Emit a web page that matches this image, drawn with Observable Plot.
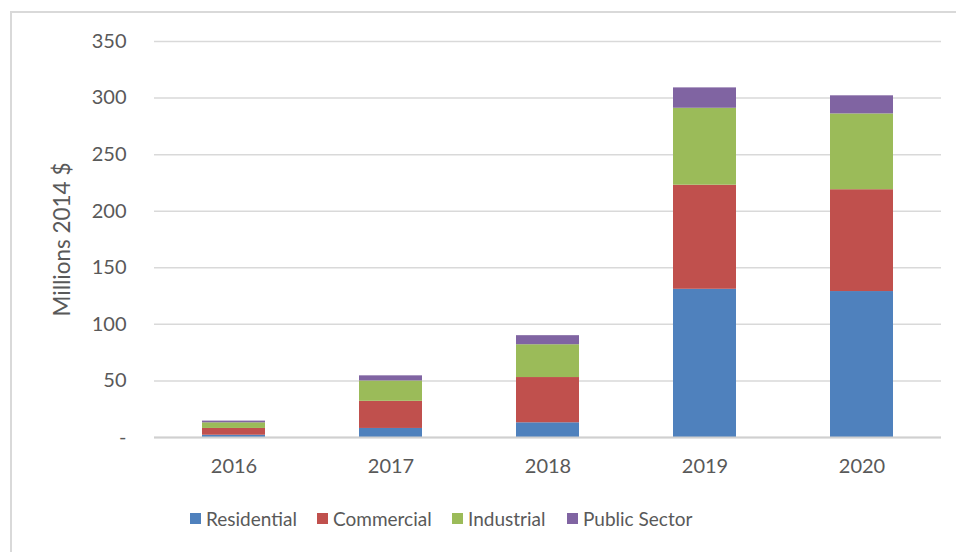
<!DOCTYPE html>
<html>
<head>
<meta charset="utf-8">
<script src="https://cdn.jsdelivr.net/npm/d3@7"></script>
<script src="https://cdn.jsdelivr.net/npm/@observablehq/plot@0.6"></script>
<style>
  body { margin: 0; background: #fff; }
  #wrap { position: relative; width: 956px; height: 552px; overflow: hidden; font-family: Lato, "Open Sans", sans-serif; }
  #frame { position: absolute; left: 10px; top: 11px; width: 1000px; height: 600px; border-top: 2px solid #d9d9d9; border-left: 2px solid #d9d9d9; box-sizing: border-box; }
  #chart { position: absolute; left: 0; top: 0; }
  #legend { position: absolute; left: 0; top: 507px; width: 956px; height: 30px; font-size: 19px; color: #595959; }
  .item { position: absolute; top: 0; display: flex; align-items: center; gap: 5px; white-space: nowrap; }
  .sw { width: 11px; height: 11px; display: inline-block; }
</style>
</head>
<body>
<div id="wrap">
  <div id="frame"></div>
  <div id="chart"></div>
  <div id="legend"></div>
</div>
<script>
const years = ["2016", "2017", "2018", "2019", "2020"];
const series = ["Residential", "Commercial", "Industrial", "Public Sector"];
const colors = ["#4F81BD", "#C0504D", "#9BBB59", "#8064A2"];
const residential = [2, 8, 13, 131, 129];
const commercial = [6, 24, 40, 92, 90];
const industrial = [5, 18, 29, 68, 67];
const publicSector = [1.5, 4.5, 8, 18, 16];
const yTicks = [0, 50, 100, 150, 200, 250, 300, 350];
const yTitle = "Millions 2014 $";

const valuesBySeries = [residential, commercial, industrial, publicSector];
const data = [];
series.forEach((s, i) => years.forEach((y, j) => data.push({year: y, series: s, value: valuesBySeries[i][j]})));

const chart = Plot.plot({
  width: 956,
  height: 495,
  marginLeft: 154,
  marginRight: 15,
  marginTop: 41,
  marginBottom: 58,
  style: {fontFamily: "Lato, 'Open Sans', sans-serif", fontSize: "20px", color: "#595959", background: "transparent"},
  x: {domain: years, paddingInner: 0.6, paddingOuter: 0.3, label: null},
  y: {domain: [0, 350], label: null},
  color: {domain: series, range: colors},
  marks: [
    Plot.gridY(yTicks, {stroke: "#d9d9d9", strokeOpacity: 1, strokeWidth: 1.5}),
    Plot.barY(data, {x: "year", y: "value", fill: "series", order: series}),
    Plot.ruleY([0], {stroke: "#d0d0d0", strokeWidth: 2}),
    Plot.axisY(yTicks, {tickSize: 0, tickPadding: 28, label: null, tickFormat: d => d === 0 ? "-" : d, fill: "#595959", fontSize: 20}),
    Plot.axisX({tickSize: 0, tickPadding: 21, label: null, fill: "#595959", fontSize: 20}),
    Plot.text([yTitle], {frameAnchor: "left", dx: -92, rotate: -90, textAnchor: "middle", lineAnchor: "middle", fill: "#595959", fontSize: 22.5})
  ]
});
document.getElementById("chart").appendChild(chart);

const legendLeft = [190, 317, 452, 567];
const legend = document.getElementById("legend");
series.forEach((s, i) => {
  const it = document.createElement("div");
  it.className = "item";
  it.style.left = legendLeft[i] + "px";
  const sw = document.createElement("span");
  sw.className = "sw";
  sw.style.background = colors[i];
  const t = document.createElement("span");
  t.textContent = s;
  it.appendChild(sw);
  it.appendChild(t);
  legend.appendChild(it);
});
</script>
</body>
</html>
